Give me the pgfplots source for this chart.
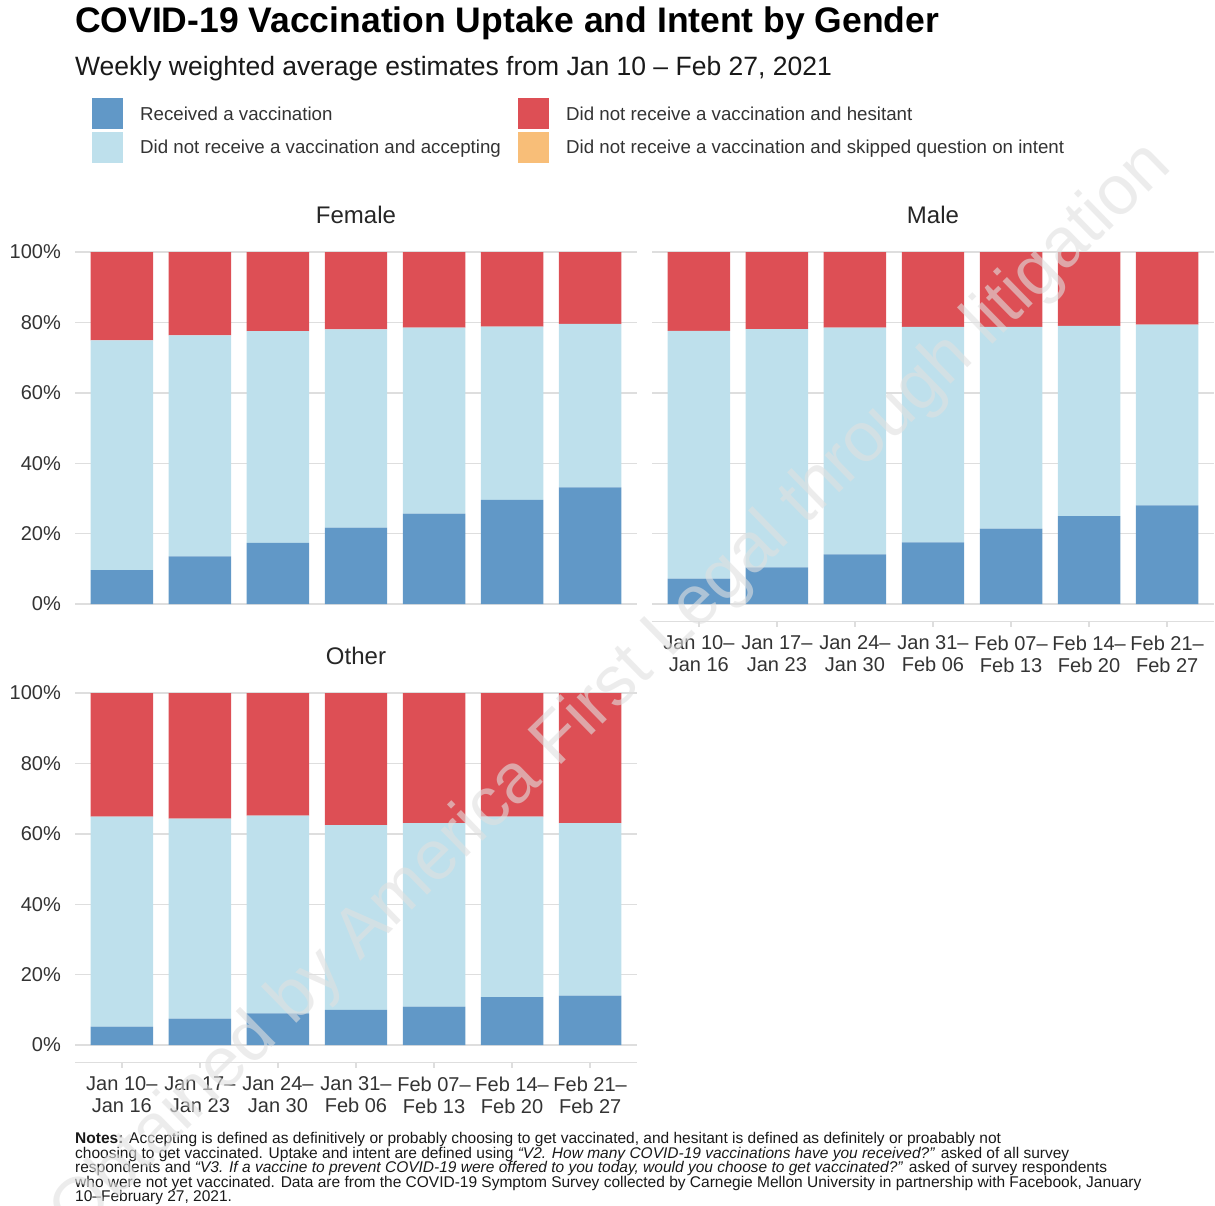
\documentclass[border=0pt]{standalone}
\usepackage{fontspec}
\setmainfont{Liberation Sans}
\usepackage{pgfplots}
\pgfplotsset{compat=1.18}
\usepackage{pgfplotstable}

\definecolor{recv}{HTML}{6198C7}
\definecolor{accp}{HTML}{BEE0EC}
\definecolor{hesi}{HTML}{DD4F55}
\definecolor{skip}{HTML}{F8BE78}
\definecolor{gridc}{HTML}{DEDEDE}
\definecolor{txt}{HTML}{333333}

% received / accepting / hesitant / skipped, in percent
\pgfplotstableread{
x rec acc hes skp
0 9.6  65.3 25.1 0
1 13.5 62.8 23.7 0
2 17.4 60.1 22.5 0
3 21.7 56.3 22.0 0
4 25.7 52.8 21.5 0
5 29.6 49.2 21.2 0
6 33.1 46.5 20.4 0
}\female
\pgfplotstableread{
x rec acc hes skp
0 7.2  70.4 22.4 0
1 10.4 67.7 21.9 0
2 14.1 64.4 21.5 0
3 17.5 61.2 21.3 0
4 21.4 57.3 21.3 0
5 25.0 54.0 21.0 0
6 28.0 51.4 20.6 0
}\male
\pgfplotstableread{
x rec acc hes skp
0 5.2  59.7 35.1 0
1 7.5  56.8 35.7 0
2 9.0  56.2 34.8 0
3 10.0 52.5 37.5 0
4 10.9 52.1 37.0 0
5 13.6 51.3 35.1 0
6 14.0 49.0 37.0 0
}\other

\pgfplotsset{
  panel/.style={
    scale only axis, width=562pt, height=387.2pt,
    xmin=-0.6, xmax=6.6, ymin=-5, ymax=105,
    ybar stacked, bar width=0.8,
    axis x line*=bottom, axis y line*=left,
    axis line style={draw=none},
    ytick={0,20,...,100}, yticklabels={0\%,20\%,40\%,60\%,80\%,100\%},
    ymajorgrids, grid style={gridc, line width=1.4pt},
    ytick style={draw=none},
    xtick={0,...,6}, xticklabels={}, xtick style={draw=none},
    yticklabel style={font=\fontsize{20}{24}\selectfont, text=txt, inner sep=0pt, xshift=-14pt},
    title style={font=\fontsize{24}{28}\selectfont, text=black!85, anchor=base, at={(0.5,1)}, yshift=5pt},
  },
  nolabels/.style={yticklabels={}},
  xlab/.style={
    x axis line style={draw=gridc, line width=1.4pt},
    xtick style={draw=gridc, line width=1.4pt},
    xtick align=outside, major tick length=5pt,
    xticklabels={Jan 10–\\Jan 16, Jan 17–\\Jan 23, Jan 24–\\Jan 30, Jan 31–\\Feb 06, Feb 07–\\Feb 13, Feb 14–\\Feb 20, Feb 21–\\Feb 27},
    xticklabel style={font=\fontsize{20}{22}\selectfont, text=txt, align=center, inner sep=0pt, yshift=-9pt},
  },
}

\begin{document}
\begin{tikzpicture}
\useasboundingbox (0,0) rectangle (1215pt,-1206pt);

% title, subtitle
\node[anchor=base west, inner sep=0pt, font=\fontsize{35.5}{40}\selectfont\bfseries] at (75pt,-33pt) {COVID-19 Vaccination Uptake and Intent by Gender};
\node[anchor=base west, inner sep=0pt, font=\fontsize{26.5}{30}\selectfont, text=black!90] at (75pt,-76pt) {Weekly weighted average estimates from Jan 10 – Feb 27, 2021};

% legend
\fill[recv] (92pt,-98pt) rectangle (123pt,-129pt);
\fill[accp] (92pt,-132pt) rectangle (123pt,-163pt);
\fill[hesi] (518pt,-98pt) rectangle (549pt,-129pt);
\fill[skip] (518pt,-132pt) rectangle (549pt,-163pt);
\begin{scope}[every node/.style={anchor=base west, inner sep=0pt, font=\fontsize{18.7}{22}\selectfont, text=txt}]
\node at (140pt,-120.7pt) {Received a vaccination};
\node at (140pt,-153.7pt) {Did not receive a vaccination and accepting};
\node at (566pt,-120.7pt) {Did not receive a vaccination and hesitant};
\node at (566pt,-153.7pt) {Did not receive a vaccination and skipped question on intent};
\end{scope}

\begin{axis}[panel, at={(75pt,-621.6pt)}, anchor=south west, title={Female}]
\addplot[fill=recv, draw=none] table[x=x, y=rec] {\female};
\addplot[fill=accp, draw=none] table[x=x, y=acc] {\female};
\addplot[fill=hesi, draw=none] table[x=x, y=hes] {\female};
\addplot[fill=skip, draw=none] table[x=x, y=skp] {\female};
\end{axis}

\begin{axis}[panel, nolabels, xlab, at={(652pt,-621.6pt)}, anchor=south west, title={Male}]
\addplot[fill=recv, draw=none] table[x=x, y=rec] {\male};
\addplot[fill=accp, draw=none] table[x=x, y=acc] {\male};
\addplot[fill=hesi, draw=none] table[x=x, y=hes] {\male};
\addplot[fill=skip, draw=none] table[x=x, y=skp] {\male};
\end{axis}

\begin{axis}[panel, xlab, at={(75pt,-1062.6pt)}, anchor=south west, title={Other}]
\addplot[fill=recv, draw=none] table[x=x, y=rec] {\other};
\addplot[fill=accp, draw=none] table[x=x, y=acc] {\other};
\addplot[fill=hesi, draw=none] table[x=x, y=hes] {\other};
\addplot[fill=skip, draw=none] table[x=x, y=skp] {\other};
\end{axis}

% notes
\node[anchor=north west, inner sep=0pt, align=left, font=\fontsize{15.5}{14.6}\selectfont, text=black!90] at (75pt,-1132pt) {%
\textbf{Notes:} Accepting is defined as definitively or probably choosing to get vaccinated, and hesitant is defined as definitely or proabably not\\
choosing to get vaccinated. Uptake and intent are defined using \textit{“V2. How many COVID-19 vaccinations have you received?”} asked of all survey\\
respondents and \textit{“V3. If a vaccine to prevent COVID-19 were offered to you today, would you choose to get vaccinated?”} asked of survey respondents\\
who were not yet vaccinated. Data are from the COVID-19 Symptom Survey collected by Carnegie Mellon University in partnership with Facebook, January\\
10–February 27, 2021.};

% watermark
\node[rotate=44.3, text=black!12, opacity=0.6, inner sep=0pt, font=\fontsize{70}{70}\selectfont] at (612pt,-690pt) {Obtained by America First Legal through litigation};
\end{tikzpicture}
\end{document}
